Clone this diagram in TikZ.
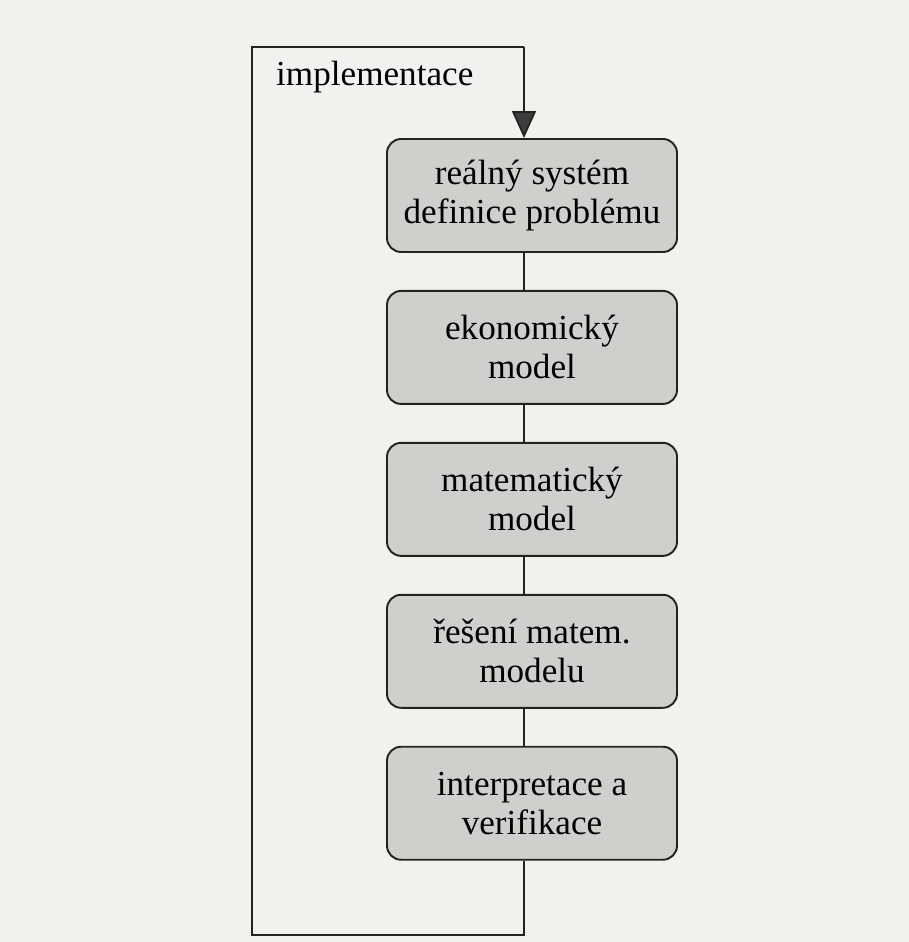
\documentclass[tikz,border=0pt]{standalone}
\usepackage{fontspec}
\setmainfont{Liberation Serif}
\usetikzlibrary{arrows.meta}
\usetikzlibrary{positioning}

\definecolor{paper}{RGB}{241,242,239}
\definecolor{boxfill}{RGB}{207,207,205}
\definecolor{ink}{RGB}{35,35,35}
\definecolor{tipgray}{RGB}{60,60,60}

\begin{document}
\begin{tikzpicture}[
    box/.style={draw=ink, line width=1.1pt, rounded corners=8pt, fill=boxfill, minimum width=5.8cm, minimum height=2.26cm, inner sep=0pt, align=center, font=\fontsize{20}{22.2}\selectfont},
    link/.style={draw=ink, line width=1pt},
    arr/.style={-{Triangle[length=5.4mm, width=4.8mm, fill=tipgray]}, line width=1pt, ink}
]

% --- PAPER ---
\fill[paper] (0,0) rectangle (18.18,18.84);
\useasboundingbox (0,0) rectangle (18.18,18.84);

% --- STAGES (top to bottom) ---
\node[box] (real) at (10.64, 14.93) {reálný systém\\definice problému};
\node[box, below=0.74cm of real] (ekon) {ekonomický\\model};
\node[box, below=0.74cm of ekon] (mat) {matematický\\model};
\node[box, below=0.74cm of mat] (res) {řešení matem.\\modelu};
\node[box, below=0.74cm of res] (verif) {interpretace a\\verifikace};

% --- FEEDBACK LOOP CORNERS ---
\coordinate (topR) at (10.48, 17.90);
\coordinate (topL) at (5.04, 17.90);
\coordinate (botL) at (5.04, 0.14);
\coordinate (botR) at (10.48, 0.14);

% --- CONNECTIONS ---
\draw[link] (real.south -| topR) -- (ekon.north -| topR);
\draw[link] (ekon.south -| topR) -- (mat.north -| topR);
\draw[link] (mat.south -| topR) -- (res.north -| topR);
\draw[link] (res.south -| topR) -- (verif.north -| topR);

\draw[link] (verif.south -| topR) -- (botR) -- (botL) -- (topL) -- (topR);
\draw[arr] (topR) -- (real.north -| topR);

\node[anchor=base west, font=\fontsize{20}{22.2}\selectfont] (impl) at (5.4, 17.12) {implementace};

\end{tikzpicture}
\end{document}
